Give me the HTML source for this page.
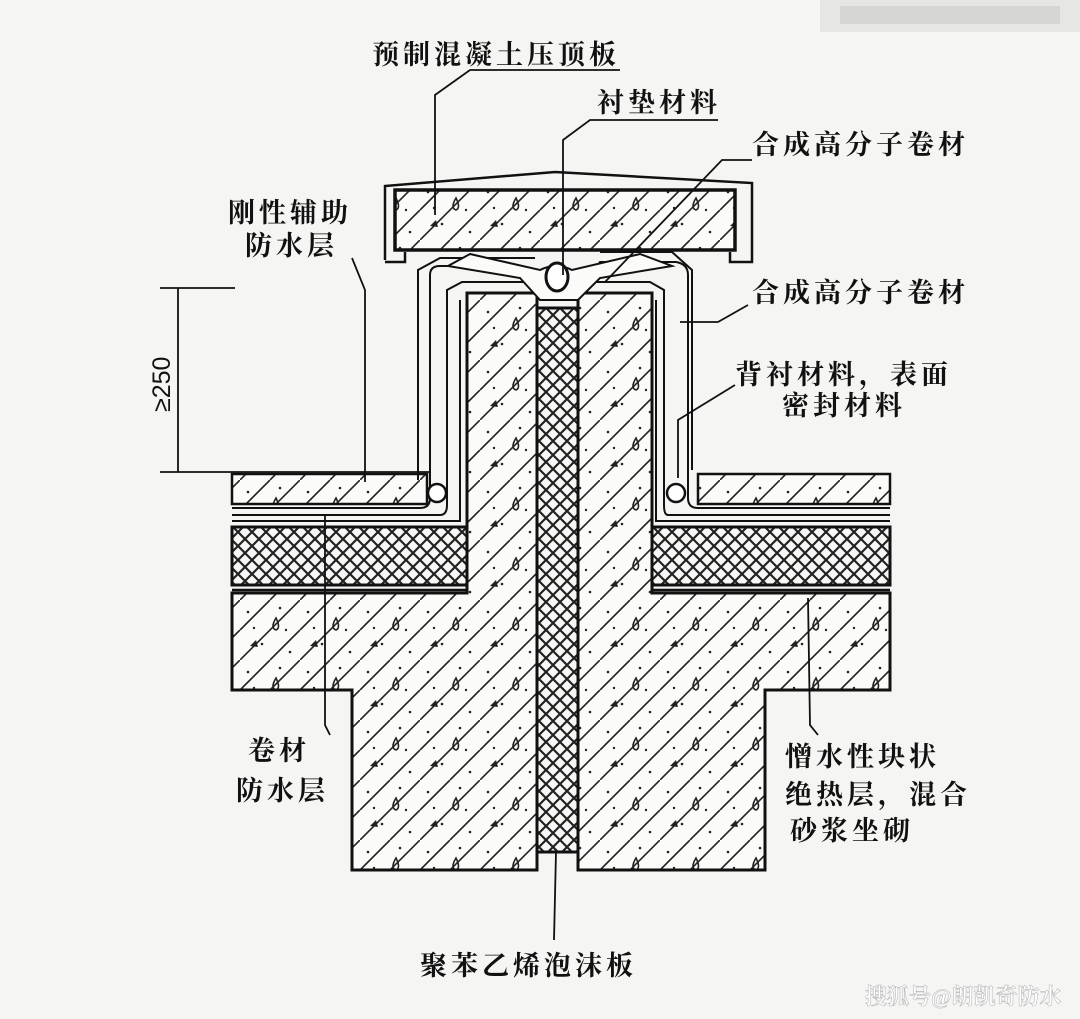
<!DOCTYPE html>
<html><head><meta charset="utf-8"><style>
html,body{margin:0;padding:0;background:#f5f5f3;}
svg{display:block}
text{font-family:"Liberation Serif","Noto Serif CJK SC","Noto Sans CJK SC",serif;font-weight:bold;fill:#111;font-size:27px;letter-spacing:4px}
</style></head><body>
<svg width="1080" height="1019" viewBox="0 0 1080 1019" xmlns="http://www.w3.org/2000/svg">
<defs>
<pattern id="conc" patternUnits="userSpaceOnUse" width="60" height="60">
<rect width="60" height="60" fill="#fbfbf9"/>
<path d="M0 30 L30 0 M0 60 L60 0 M30 60 L60 30" stroke="#222" stroke-width="1.6" fill="none"/>
<circle cx="8" cy="12" r="1.3" fill="#222"/><circle cx="40" cy="8" r="1.3" fill="#222"/>
<circle cx="22" cy="44" r="1.3" fill="#222"/><circle cx="50" cy="52" r="1.3" fill="#222"/>
<circle cx="14" cy="28" r="1.2" fill="#222"/><circle cx="46" cy="30" r="1.2" fill="#222"/>
<path d="M36 18 q-6 10 0 12 q5 -2 0 -12z" fill="none" stroke="#222" stroke-width="1.6"/>
<path d="M10 46 l6 -6 l2 7z" fill="#222"/>
</pattern>
<pattern id="xh" patternUnits="userSpaceOnUse" width="14" height="14">
<rect width="14" height="14" fill="#f7f7f5"/>
<path d="M0 0 L14 14 M14 0 L0 14" stroke="#222" stroke-width="2.2"/>
</pattern>
</defs>

<!-- top-right blur -->
<rect x="820" y="0" width="260" height="32" fill="#e6e6e4"/>
<rect x="840" y="6" width="220" height="18" fill="#d6d6d4"/>

<!-- floor screed -->
<rect x="232" y="474" width="195" height="30" fill="url(#conc)" stroke="#111" stroke-width="2.5"/>
<rect x="698" y="474" width="192" height="30" fill="url(#conc)" stroke="#111" stroke-width="2.5"/>
<!-- insulation -->
<rect x="232" y="527" width="235" height="58" fill="url(#xh)" stroke="#111" stroke-width="3"/>
<rect x="652" y="527" width="238" height="58" fill="url(#xh)" stroke="#111" stroke-width="3"/>
<line x1="232" y1="590" x2="467" y2="590" stroke="#111" stroke-width="2.5"/>
<line x1="652" y1="590" x2="890" y2="590" stroke="#111" stroke-width="2.5"/>
<!-- slab + downstand + columns -->
<path d="M232 593 L467 593 L467 293 L537 293 L537 870 L352 870 L352 690 L232 690 Z" fill="url(#conc)" stroke="#111" stroke-width="3"/>
<path d="M890 593 L652 593 L652 293 L578 293 L578 870 L765 870 L765 690 L890 690 Z" fill="url(#conc)" stroke="#111" stroke-width="3"/>
<!-- foam -->
<rect x="537" y="308" width="41" height="544" fill="url(#xh)" stroke="#111" stroke-width="3"/>

<!-- membranes left -->
<g fill="none" stroke="#111" stroke-width="2">
<path d="M232 508 L420 508 Q430 508 430 498 L430 275 Q430 266 440 266 L522 266 L545 300"/>
<path d="M232 515 L440 515 Q447 515 447 505 L447 290 L462 282 L540 282"/>
<path d="M232 521 L460 521 L460 300"/>
<path d="M418 480 L418 270 L440 258 L535 258"/>
</g>
<!-- membranes right -->
<g fill="none" stroke="#111" stroke-width="2">
<path d="M890 508 L698 508 Q688 508 688 498 L688 275 Q688 264 676 262 L600 262 L575 300"/>
<path d="M890 515 L668 515 Q664 515 664 505 L664 290 L650 282 L580 282"/>
<path d="M890 521 L656 521 L656 300"/>
<path d="M692 470 L692 270 L672 252 L600 252"/>
</g>
<!-- grout under cap -->
<path d="M470 254 L540 270 Q556 262 572 270 L640 254 L672 266 L600 278 L578 300 L560 300 L540 300 L520 278 L448 266 Z" fill="#fbfbf9" stroke="#111" stroke-width="2"/>
<ellipse cx="557" cy="277" rx="11" ry="14" fill="#fff" stroke="#111" stroke-width="3"/>
<!-- backer rods -->
<circle cx="437" cy="493" r="9" fill="#fff" stroke="#111" stroke-width="2.5"/>
<circle cx="676" cy="493" r="9" fill="#fff" stroke="#111" stroke-width="2.5"/>

<!-- cap -->
<path d="M385 260 L385 186 L555 172 L752 183 L752 262 L730 262 L730 252 M405 252 L405 262 L385 262" fill="none" stroke="#111" stroke-width="2.5"/>
<rect x="395" y="190" width="340" height="60" fill="url(#conc)" stroke="#111" stroke-width="3.5"/>

<!-- leaders -->
<g fill="none" stroke="#111" stroke-width="1.8">
<path d="M620 70 L470 70 L435 95 L435 215"/>
<path d="M718 120 L590 120 L563 140 L563 275"/>
<path d="M752 160 L722 160 L605 282"/>
<path d="M352 258 L365 290 L365 482"/>
<path d="M748 305 L718 322 L680 322"/>
<path d="M735 385 L678 420 L678 478"/>
<path d="M330 735 L325 725 L325 515"/>
<path d="M818 735 L810 725 L808 598"/>
<path d="M554 940 L556 852"/>
<path d="M178 288 L178 472 M160 288 L235 288 M160 472 L430 472"/>
</g>
<text x="0" y="0" transform="translate(170,412) rotate(-90)" style="font-family:'Liberation Sans',sans-serif;font-weight:normal;font-size:25px;letter-spacing:0">≥250</text>

<!-- labels -->
<text x="372" y="64">预制混凝土压顶板</text>
<text x="597" y="112">衬垫材料</text>
<text x="752" y="154">合成高分子卷材</text>
<text x="228" y="222">刚性辅助</text>
<text x="245" y="255">防水层</text>
<text x="752" y="302">合成高分子卷材</text>
<text x="735" y="384">背衬材料，表面</text>
<text x="782" y="415">密封材料</text>
<text x="248" y="760">卷材</text>
<text x="236" y="800">防水层</text>
<text x="785" y="766">憎水性块状</text>
<text x="785" y="804">绝热层，混合</text>
<text x="790" y="840">砂浆坐砌</text>
<text x="420" y="975">聚苯乙烯泡沫板</text>
<text x="865" y="1004" style="fill:#fff;font-size:22px;letter-spacing:0;stroke:#bbb;stroke-width:0.6">搜狐号@朗凯奇防水</text>
</svg>
</body></html>
